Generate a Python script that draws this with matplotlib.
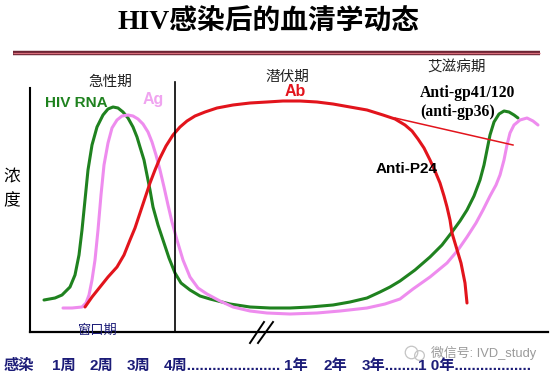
import matplotlib
matplotlib.use("Agg")
from matplotlib import pyplot as plt

plt.rcParams["font.family"] = ["Liberation Sans", "Noto Sans CJK SC"]

# 曲线数据：横轴为时间刻度，纵轴为浓度
rna_x = [44, 55, 62, 70, 75, 79, 82, 85, 88, 92, 97, 103, 108, 113, 118, 123, 128, 133, 137, 140,
         144, 147, 150, 153, 158, 163, 169, 175, 181, 190, 200, 210, 230, 250, 270, 290, 310, 333, 350, 367,
         380, 390, 400, 415, 430, 442, 452, 460, 467, 474, 480, 484, 487, 490, 494, 499, 504, 509, 514, 518]
rna_y = [32, 34, 37, 45, 57, 77, 102, 132, 162, 187, 205, 217, 223, 225, 224, 220, 214, 205, 195, 185,
         172, 157, 142, 125, 107, 92, 74, 59, 49, 42, 36, 33, 28, 25, 24, 24, 25, 27, 30, 34,
         40, 45, 51, 62, 75, 87, 100, 111, 122, 136, 152, 167, 182, 197, 210, 218, 221, 220, 217, 214]

ag_x = [63, 72, 82, 86, 89, 92, 95, 98, 101, 104, 108, 112, 117, 122, 128, 133, 138, 143, 148, 152,
        156, 160, 164, 168, 172, 177, 183, 190, 198, 207, 220, 233, 250, 267, 290, 317, 340, 367, 385, 400,
        413, 430, 447, 458, 467, 476, 483, 490, 496, 500, 504, 507, 510, 514, 520, 527, 533, 538]
ag_y = [24, 24, 25, 29, 37, 52, 72, 102, 137, 167, 189, 204, 212, 216, 217, 216, 213, 208, 200, 190,
        177, 162, 145, 127, 110, 92, 72, 55, 44, 38, 31, 25, 21, 19, 18, 19, 21, 24, 28, 33,
        43, 55, 69, 82, 95, 109, 122, 136, 147, 157, 172, 187, 199, 207, 212, 214, 211, 207]

ab_x = [85, 92, 100, 108, 117, 124, 130, 135, 140, 145, 150, 155, 160, 166, 173, 180, 187, 195, 205, 217,
        233, 250, 267, 283, 300, 317, 333, 350, 367, 383, 395, 405, 412, 418, 424, 430, 435, 440, 444, 447,
        450, 452, 455, 458, 461, 463, 465, 466, 467]
ab_y = [25, 35, 45, 55, 65, 77, 92, 104, 119, 134, 149, 162, 174, 186, 197, 205, 211, 216, 220, 224,
        227, 229, 230, 231, 231, 230, 228, 225, 222, 217, 213, 207, 201, 193, 184, 172, 161, 149, 136, 125,
        112, 99, 89, 79, 69, 59, 49, 39, 29]

gp41_x = [395, 513]
gp41_y = [214, 187]

tick_labels = ["感染", "1周", "2周", "3周", "4周" + "." * 22, "1年", "2年", "3年" + "." * 8, "1 0年" + "." * 18]
tick_x = [4, 52, 90, 127, 164, 284, 324, 362, 418]

GREEN = "#1f821f"
PINK = "#ee8cee"
RED = "#e2141c"
NAVY = "#1c1c78"

W, H = 556, 374
fig = plt.figure(figsize=(W / 100, H / 100), dpi=100)

# 曲线区域
ax = fig.add_axes([30 / W, (H - 332) / H, 518 / W, 272 / H])
ax.set_xlim(30, 548)
ax.set_ylim(0, 272)
ax.patch.set_alpha(0)
for s in ["top", "right"]:
    ax.spines[s].set_visible(False)
ax.spines["left"].set_bounds(0, 244)
ax.spines["left"].set_linewidth(1.5)
ax.spines["bottom"].set_linewidth(1.6)
ax.set_xticks([])
ax.set_yticks([])

ax.plot(rna_x, rna_y, color=GREEN, lw=2.2, solid_capstyle="round", solid_joinstyle="round")
ax.plot(ag_x, ag_y, color=PINK, lw=2.2, solid_capstyle="round", solid_joinstyle="round")
ax.plot(ab_x, ab_y, color=RED, lw=2.2, solid_capstyle="round", solid_joinstyle="round")
ax.plot(gp41_x, gp41_y, color=RED, lw=1.1)
ax.plot([175, 175], [0, 250], color="black", lw=1.2)

# 文字和装饰
ov = fig.add_axes([0, 0, 1, 1])
ov.set_xlim(0, W)
ov.set_ylim(H, 0)
ov.axis("off")

ov.text(268, 23, "HIV感染后的血清学动态", ha="center", va="center", fontsize=20, fontweight="bold",
        family=["Liberation Serif", "Noto Sans CJK SC"])
ov.plot([13, 540], [53, 53], color="#6e2434", lw=3.2, solid_capstyle="butt")
ov.plot([13, 540], [53, 53], color="#d9707c", lw=0.9, solid_capstyle="butt")

ov.text(110, 82, "急性期", ha="center", va="center", fontsize=10.5, color="#222222")
ov.text(287, 77, "潜伏期", ha="center", va="center", fontsize=10.5, color="#222222")
ov.text(457, 68, "艾滋病期", ha="center", va="center", fontsize=10.5, color="#222222")

ov.text(45, 103, "HIV RNA", ha="left", va="center", fontsize=11, fontweight="bold", color=GREEN)
ov.text(143, 99, "Ag", ha="left", va="center", fontsize=11.5, fontweight="bold", color="#f0a4f0")
ov.text(285, 91, "Ab", ha="left", va="center", fontsize=11.5, fontweight="bold", color=RED)
ov.text(376, 169, "Anti-P24", ha="left", va="center", fontsize=11, fontweight="bold", color="black")
ov.text(420, 93, "Anti-gp41/120", ha="left", va="center", fontsize=11.3, fontweight="bold",
        family="Liberation Serif")
ov.text(420, 112, "(anti-gp36)", ha="left", va="center", fontsize=11.3, fontweight="bold",
        family="Liberation Serif")

ov.text(12, 177, "浓", ha="center", va="center", fontsize=12)
ov.text(12, 200, "度", ha="center", va="center", fontsize=12)

ov.text(98, 331, "窗口期", ha="center", va="center", fontsize=9.5, color=NAVY)

ov.plot([250, 264], [343, 322], color="black", lw=1.4)
ov.plot([258, 273], [343, 322], color="black", lw=1.4)

for lab, x in zip(tick_labels, tick_x):
    ov.text(x, 366, lab, ha="left", va="center", fontsize=11, fontweight="bold", color=NAVY)

# 水印
ov.plot([411], [352], marker="o", ms=9, mfc="none", mec="#c4c4c4", mew=0.9)
ov.plot([419], [355], marker="o", ms=7, mfc="none", mec="#c4c4c4", mew=0.9)
ov.text(431, 353, "微信号: IVD_study", ha="left", va="center", fontsize=9.3, color="#9a9a9a")

fig.savefig("out.png", dpi=100)
